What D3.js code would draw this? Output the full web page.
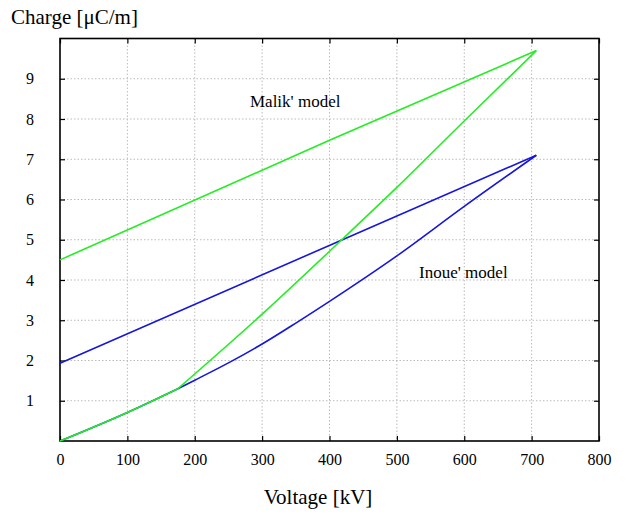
<!DOCTYPE html>
<html>
<head>
<meta charset="utf-8">
<script src="https://cdn.jsdelivr.net/npm/d3@7"></script>
<style>
body { margin: 0; background: #fff; }
text { font-family: "Liberation Serif", "Times New Roman", serif; fill: #000; }
</style>
</head>
<body>
<svg id="chart" width="627" height="515"></svg>
<script>
// data (voltage kV, charge uC/m)
var xTicks = [0, 100, 200, 300, 400, 500, 600, 700, 800];
var yTicks = [1, 2, 3, 4, 5, 6, 7, 8, 9];

// shared start of both loops (0 -> 175 kV)
var startV = [0, 100, 175];
var startQ = [0, 0.71, 1.3];

// rising branch after the corner, then the straight falling branch
var malikUpV = [175, 300, 415, 500, 600, 707];
var malikUpQ = [1.3, 3.15, 4.95, 6.3, 7.95, 9.7];
var malikDownV = [707, 400, 0];
var malikDownQ = [9.7, 7.47, 4.5];

var inoueUpV = [175, 200, 250, 300, 350, 400, 500, 600, 707];
var inoueUpQ = [1.3, 1.51, 1.94, 2.41, 2.93, 3.47, 4.6, 5.83, 7.1];
var inoueDownV = [707, 415, 0];
var inoueDownQ = [7.1, 4.97, 1.93];

var labels = [
  {text: "Malik' model", v: 282, q: 8.3},
  {text: "Inoue' model", v: 533, q: 4.05}
];

var svg = d3.select("#chart");
var pLeft = 60, pRight = 599, pTop = 38.5, pBottom = 441;

var x = d3.scaleLinear().domain([0, 800]).range([pLeft, pRight]);
var y = d3.scaleLinear().domain([0, 10]).range([pBottom, pTop]);

// grid
svg.append("g").selectAll("line").data(xTicks.slice(1, -1)).enter().append("line")
  .attr("x1", d => x(d)).attr("x2", d => x(d)).attr("y1", pTop).attr("y2", pBottom)
  .style("stroke", "#bbb").style("stroke-dasharray", "1.5,2").style("stroke-width", 1);
svg.append("g").selectAll("line").data(yTicks).enter().append("line")
  .attr("x1", pLeft).attr("x2", pRight).attr("y1", d => y(d)).attr("y2", d => y(d))
  .style("stroke", "#bbb").style("stroke-dasharray", "1.5,2").style("stroke-width", 1);

// axes, ticks pointing inward on all four sides
svg.append("g").attr("transform", "translate(0," + pBottom + ")")
  .call(d3.axisBottom(x).tickValues(xTicks).tickSize(-5).tickPadding(13).tickFormat(d3.format("d")))
  .call(g => g.select(".domain").remove())
  .call(g => g.selectAll("text").style("font-size", "16px").style("font-family", "Liberation Serif"));
svg.append("g").attr("transform", "translate(0," + pTop + ")")
  .call(d3.axisTop(x).tickValues(xTicks).tickSize(-5).tickFormat(""))
  .call(g => g.select(".domain").remove());
svg.append("g").attr("transform", "translate(" + pLeft + ",0)")
  .call(d3.axisLeft(y).tickValues(yTicks).tickSize(-5).tickPadding(30).tickFormat(d3.format("d")))
  .call(g => g.select(".domain").remove())
  .call(g => g.selectAll("text").attr("text-anchor", "middle").style("font-size", "16px").style("font-family", "Liberation Serif"));
svg.append("g").attr("transform", "translate(" + pRight + ",0)")
  .call(d3.axisRight(y).tickValues(yTicks).tickSize(-5).tickFormat(""))
  .call(g => g.select(".domain").remove());
svg.selectAll(".tick line").style("stroke", "#000").style("stroke-width", 1.2);

svg.append("rect").attr("x", pLeft).attr("y", pTop).attr("width", pRight - pLeft).attr("height", pBottom - pTop)
  .style("fill", "none").style("stroke", "#000").style("stroke-width", 1.6);

// curves
var smooth = d3.line().x(d => x(d[0])).y(d => y(d[1])).curve(d3.curveMonotoneX);
var straight = d3.line().x(d => x(d[0])).y(d => y(d[1]));
function drawSeries(upV, upQ, downV, downQ, color, upLine) {
  svg.append("path").datum(d3.zip(startV, startQ)).attr("d", smooth)
    .style("fill", "none").style("stroke", color).style("stroke-width", 1.6);
  svg.append("path").datum(d3.zip(upV, upQ)).attr("d", upLine)
    .style("fill", "none").style("stroke", color).style("stroke-width", 1.6);
  svg.append("path").datum(d3.zip(downV, downQ)).attr("d", straight)
    .style("fill", "none").style("stroke", color).style("stroke-width", 1.6);
}
drawSeries(inoueUpV, inoueUpQ, inoueDownV, inoueDownQ, "#1515e0", smooth);
drawSeries(malikUpV, malikUpQ, malikDownV, malikDownQ, "#22ee22", smooth);

// labels
svg.selectAll(".lab").data(labels).enter().append("text")
  .attr("x", d => x(d.v)).attr("y", d => y(d.q))
  .style("font-size", "17px").text(d => d.text);

svg.append("text").attr("x", 11).attr("y", 24).style("font-size", "21px").text("Charge [\u03bcC/m]");
svg.append("text").attr("x", 318).attr("y", 504).attr("text-anchor", "middle").style("font-size", "21px").text("Voltage [kV]");
</script>
</body>
</html>
